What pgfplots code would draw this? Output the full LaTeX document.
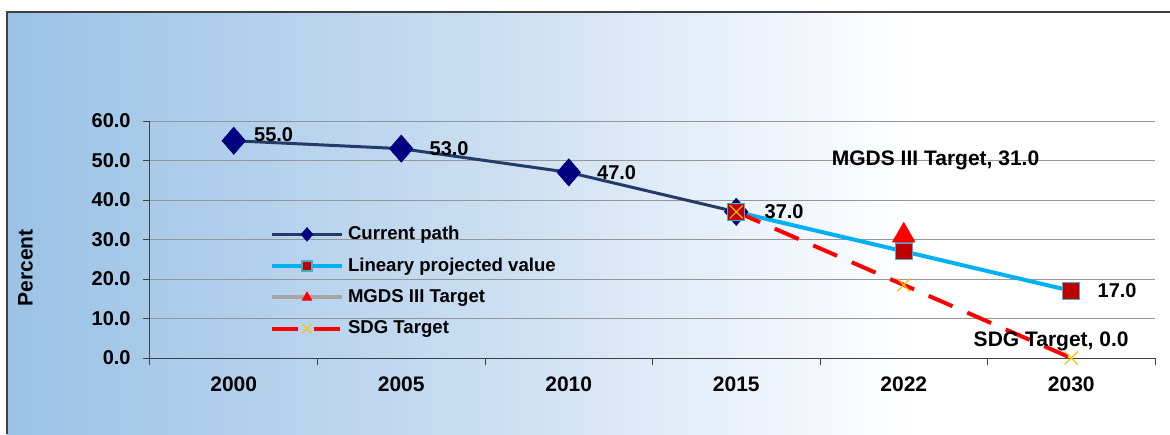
\documentclass[border=0pt]{standalone}
\usepackage{fontspec}
\setmainfont{Liberation Sans}
\usepackage{pgfplots}
\pgfplotsset{compat=1.18}

\definecolor{bgA}{RGB}{155,194,230}
\definecolor{bgB}{RGB}{200,221,241}
\definecolor{bgC}{RGB}{238,244,251}
\definecolor{pathline}{RGB}{36,58,105}
\definecolor{pathmark}{RGB}{0,0,128}
\definecolor{projline}{RGB}{0,176,240}
\definecolor{projmark}{RGB}{192,0,0}
\definecolor{projedge}{RGB}{75,172,198}
\definecolor{sdgx}{RGB}{255,192,0}
\definecolor{gridc}{RGB}{150,150,150}

\pgfdeclarehorizontalshading{bgshade}{100bp}{color(0bp)=(bgA); color(25bp)=(bgA); color(45bp)=(bgB); color(58bp)=(bgC); color(64bp)=(white); color(100bp)=(white)}

\begin{document}
\begin{tikzpicture}
\path[use as bounding box] (-75pt,-38pt) rectangle (510pt,179pt);
\shade[shading=bgshade] (-71.5pt,-38pt) rectangle (510pt,173pt);
\draw[black!75, line width=0.7pt] (-71.5pt,-38pt) -- (-71.5pt,173pt) -- (510pt,173pt);

\begin{axis}[
  at={(0pt,0pt)}, anchor=south west,
  scale only axis,
  width=502.5pt, height=118.5pt,
  xmin=-0.5, xmax=5.5,
  ymin=0, ymax=60,
  clip=false,
  axis lines=left,
  axis line style={-, black!75, line width=0.5pt},
  xtick={0,1,2,3,4,5},
  xticklabels={2000,2005,2010,2015,2022,2030},
  minor xtick={-0.5,0.5,1.5,2.5,3.5,4.5,5.5},
  major x tick style={draw=none},
  minor x tick style={black!75, line width=0.5pt},
  minor tick length=3.5pt,
  major tick length=3.5pt,
  tick align=outside,
  ytick={0,10,20,30,40,50,60},
  y tick style={black!75, line width=0.5pt},
  ymajorgrids,
  grid style={gridc, line width=0.5pt},
  /pgf/number format/.cd, fixed, fixed zerofill, precision=1, assume math mode=true,
  /pgfplots/.cd,
  yticklabel style={font=\bfseries\fontsize{10}{12}\selectfont, inner sep=0pt, xshift=-6pt},
  xticklabel style={font=\bfseries\fontsize{10.5}{12}\selectfont, inner sep=0pt, yshift=-5.5pt},
  ylabel={Percent},
  ylabel style={at={(axis description cs:-0.124,0.38)}, anchor=center, font=\bfseries\fontsize{10.5}{12}\selectfont},
  legend style={at={(axis description cs:0.119,0.575)}, anchor=north west, draw=none, fill=none,
    font=\bfseries\fontsize{9.3}{11}\selectfont, row sep=3.6pt, inner sep=0pt},
  legend cell align=left,
  legend image code/.code={\draw[mark repeat=2, mark phase=2, #1] plot coordinates {(0pt,0pt) (17.5pt,0pt) (35pt,0pt)};},
]
\addplot[pathline, line width=1.5pt, mark=diamond*, mark size=6.8pt,
  mark options={fill=pathmark, draw=pathmark, line width=0.3pt, xscale=1.15},
  legend image post style={mark size=3.4pt}]
  coordinates {(0,55) (1,53) (2,47) (3,37)};
\addlegendentry{Current path}

\addplot[projline, line width=2pt, mark=square*, mark size=4.2pt,
  mark options={fill=projmark, draw=projedge, line width=0.6pt},
  legend image post style={mark size=2.5pt}]
  coordinates {(3,37) (4,27) (5,17)};
\addlegendentry{Lineary projected value}

\addlegendimage{gray!70, line width=2pt, mark=triangle*, mark size=2.7pt, mark options={fill=red, draw=red, line width=0.4pt}}
\addlegendentry{MGDS III Target}

\addplot[forget plot, gray!70, line width=2pt, mark=triangle*, mark size=4.9pt,
  mark options={fill=red, draw=red}]
  coordinates {(4,31)};

\addplot[red, line width=2pt, dash pattern=on 13pt off 8pt, mark=x, mark size=4.6pt,
  mark options={draw=sdgx, line width=0.6pt, solid},
  legend image post style={mark size=3.2pt}]
  coordinates {(3,37) (4,18.5) (5,0)};
\addlegendentry{SDG Target}

\begin{scope}[every node/.style={font=\bfseries\fontsize{10}{12}\selectfont, inner sep=0pt, anchor=west}]
\node[xshift=10pt, yshift=3pt] at (axis cs:0,55) {55.0};
\node[xshift=14pt] at (axis cs:1,53) {53.0};
\node[xshift=14pt] at (axis cs:2,47) {47.0};
\node[xshift=14pt] at (axis cs:3,37) {37.0};
\node[xshift=13pt] at (axis cs:5,17) {17.0};
\end{scope}
\node[font=\bfseries\fontsize{10.5}{12}\selectfont, inner sep=0pt] at (axis cs:4.19,50.1) {MGDS III Target, 31.0};
\node[font=\bfseries\fontsize{10.5}{12}\selectfont, inner sep=0pt] at (axis cs:4.88,4.3) {SDG Target, 0.0};
\end{axis}
\end{tikzpicture}
\end{document}
